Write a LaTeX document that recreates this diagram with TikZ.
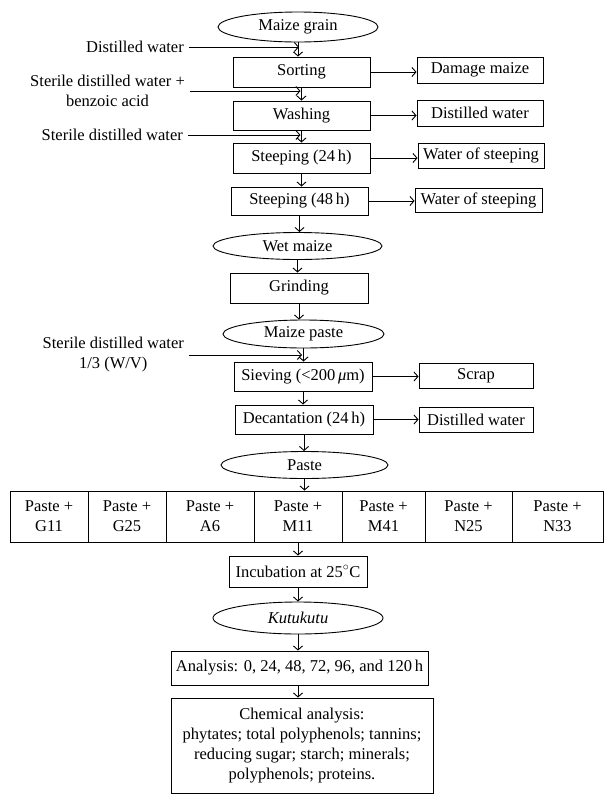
\documentclass[tikz,border=0pt]{standalone}
\usepackage{fontspec}
\setmainfont{Liberation Serif}
\usetikzlibrary{arrows.meta,shapes.geometric}
\begin{document}
\begin{tikzpicture}[x=1pt,y=-1pt,
  every node/.style={font=\fontsize{16.5pt}{20pt}\selectfont},
  box/.style={draw,line width=0.9pt,inner sep=0pt,align=center},
  oval/.style={draw,ellipse,line width=0.9pt,inner sep=0pt},
  lab/.style={anchor=east,inner sep=0pt,align=center},
  arr/.style={line width=0.9pt,-{Straight Barb[length=4pt,width=9pt]}}]
\useasboundingbox (0,0) rectangle (611,804);

% main column
\node[oval,minimum width=160pt,minimum height=30pt] (grain) at (298,27) {Maize grain};
\node[box,minimum width=137pt,minimum height=30pt] (sort) at (301.5,72) {Sorting};
\node[box,minimum width=137pt,minimum height=29pt] (wash) at (301.5,115.5) {Washing};
\node[box,minimum width=137pt,minimum height=30pt] (st24) at (301.5,158) {Steeping (24\,h)};
\node[box,minimum width=137pt,minimum height=28pt] (st48) at (299.5,201) {Steeping (48\,h)};
\node[oval,minimum width=169pt,minimum height=27pt] (wet) at (297.5,246) {Wet maize};
\node[box,minimum width=138pt,minimum height=30pt] (grind) at (299,288) {Grinding};
\node[oval,minimum width=161pt,minimum height=28pt] (mpaste) at (303.5,334) {Maize paste};
\node[box,minimum width=138pt,minimum height=29pt] (sieve) at (303,376.5) {Sieving (<200\,{\itshape μ}m)};
\node[box,minimum width=138pt,minimum height=29pt] (decant) at (304,419.5) {Decantation (24\,h)};
\node[oval,minimum width=167pt,minimum height=27pt] (paste) at (304.5,465) {Paste};

% row of inoculated pastes
\node[box,minimum width=78pt,minimum height=51pt] (g11) at (49,516.5) {Paste +\\G11};
\node[box,minimum width=78pt,minimum height=51pt] (g25) at (127,516.5) {Paste +\\G25};
\node[box,minimum width=88pt,minimum height=51pt] (a6) at (210,516.5) {Paste +\\A6};
\node[box,minimum width=88pt,minimum height=51pt] (m11) at (298,516.5) {Paste +\\M11};
\node[box,minimum width=83pt,minimum height=51pt] (m41) at (383.5,516.5) {Paste +\\M41};
\node[box,minimum width=87pt,minimum height=51pt] (n25) at (468.5,516.5) {Paste +\\N25};
\node[box,minimum width=91pt,minimum height=51pt] (n33) at (557.5,516.5) {Paste +\\N33};

\node[box,minimum width=138pt,minimum height=31pt] (incub) at (298,571.5) {Incubation at 25$^{\circ}$C};
\node[oval,minimum width=170pt,minimum height=32pt] (kutu) at (298,618) {\itshape Kutukutu};
\node[box,minimum width=257pt,minimum height=34pt] (anal) at (299.5,668) {Analysis: 0, 24, 48, 72, 96, and 120\,h};
\node[box,minimum width=262pt,minimum height=95pt] (chem) at (302,745.5) {Chemical analysis:\\phytates; total polyphenols; tannins;\\reducing sugar; starch; minerals;\\polyphenols; proteins.};

% outputs on the right
\node[box,minimum width=126pt,minimum height=26pt] (dmg) at (480,70) {Damage maize};
\node[box,minimum width=126pt,minimum height=26pt] (dw2) at (480,113) {Distilled water};
\node[box,minimum width=126pt,minimum height=25pt] (ws1) at (481,155.5) {Water of steeping};
\node[box,minimum width=127pt,minimum height=24pt] (ws2) at (478.5,200) {Water of steeping};
\node[box,minimum width=114pt,minimum height=25pt] (scrap) at (476,375.5) {Scrap};
\node[box,minimum width=114pt,minimum height=25pt] (dw3) at (476,419.5) {Distilled water};

% inputs on the left
\node[lab] (in1) at (184,47) {Distilled water};
\node[lab] (in2) at (185,91) {Sterile distilled water +\\benzoic acid};
\node[lab] (in3) at (183,135) {Sterile distilled water};
\node[lab] (in4) at (184,355) {Sterile distilled water\\1/3 (W/V)};
\coordinate (j1) at (299,47);
\coordinate (j2) at (300.5,91);
\coordinate (j3) at (300.5,135);
\coordinate (j4) at (302,355);

% connectors
\draw[arr] (grain.south) -- (grain.south |- sort.north);
\draw[arr] (sort.south) -- (sort.south |- wash.north);
\draw[arr] (wash.south) -- (wash.south |- st24.north);
\draw[arr] (st24.south) -- (st24.south |- st48.north);
\draw[arr] (st48.south) -- (st48.south |- wet.north);
\draw[arr] (wet.south) -- (wet.south |- grind.north);
\draw[arr] (grind.south) -- (grind.south |- mpaste.north);
\draw[arr] (mpaste.south) -- (mpaste.south |- sieve.north);
\draw[arr] (sieve.south) -- (sieve.south |- decant.north);
\draw[arr] (decant.south) -- (decant.south |- paste.north);
\draw[arr] (paste.south) -- (paste.south |- m11.north);
\draw[arr] (m11.south) -- (m11.south |- incub.north);
\draw[arr] (incub.south) -- (incub.south |- kutu.north);
\draw[arr] (kutu.south) -- (kutu.south |- anal.north);
\draw[arr] (anal.south -| kutu.south) -- (kutu.south |- chem.north);

\draw[arr] (sort.east) -- (dmg.west |- sort.east);
\draw[arr] (wash.east) -- (dw2.west |- wash.east);
\draw[arr] (st24.east) -- (ws1.west |- st24.east);
\draw[arr] (st48.east) -- (ws2.west |- st48.east);
\draw[arr] (sieve.east) -- (scrap.west |- sieve.east);
\draw[arr] (decant.east) -- (dw3.west |- decant.east);

\draw[arr] ([xshift=5pt]in1.east) -- (j1);
\draw[arr] ([xshift=5pt]in2.east) -- (j2);
\draw[arr] ([xshift=5pt]in3.east) -- (j3);
\draw[arr] ([xshift=5pt]in4.east) -- (j4);
\end{tikzpicture}
\end{document}
